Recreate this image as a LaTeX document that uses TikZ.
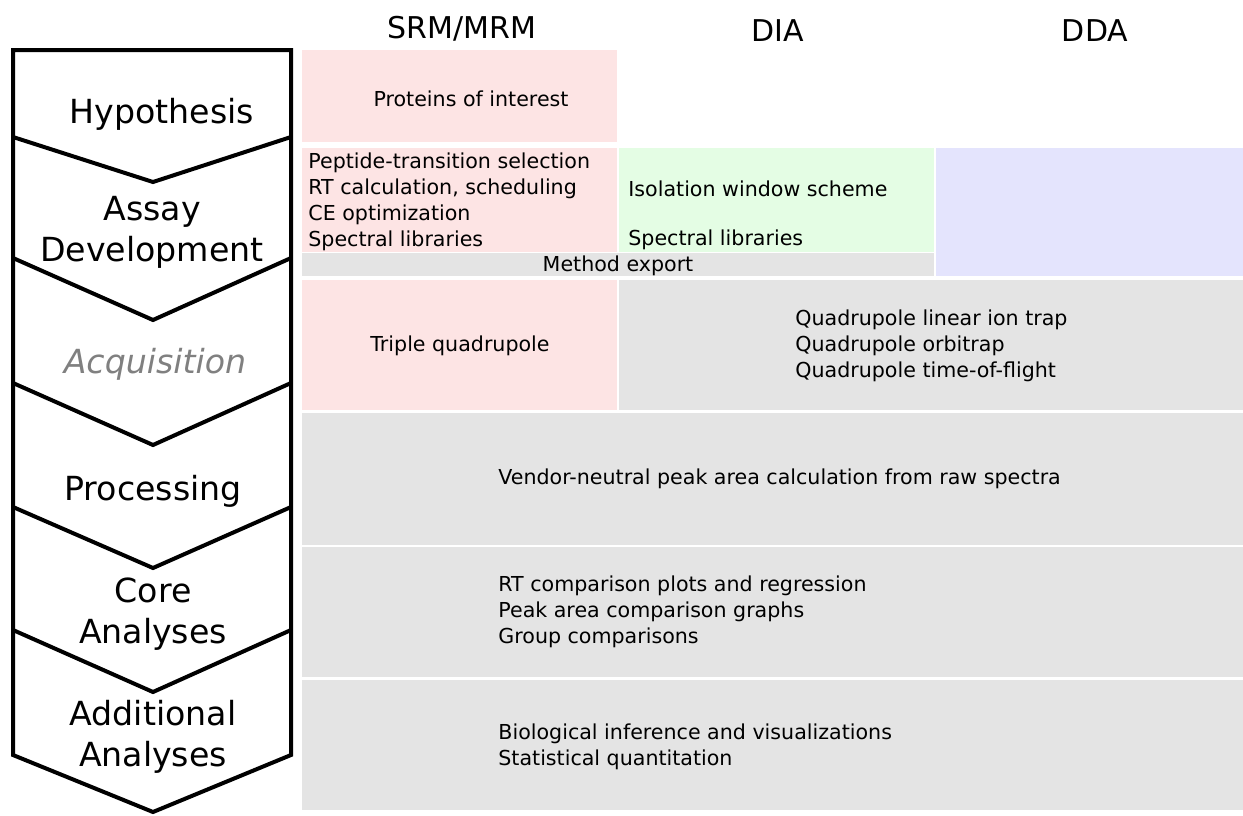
\documentclass[tikz,border=0pt]{standalone}
\usepackage{fontspec}
\setmainfont{DejaVu Sans}
\usepackage{tikz}
\usetikzlibrary{positioning}
\definecolor{srmpink}{RGB}{253,228,228}
\definecolor{diagreen}{RGB}{228,253,228}
\definecolor{ddablue}{RGB}{228,228,253}
\definecolor{cellgray}{RGB}{228,228,228}
\definecolor{stagegray}{RGB}{128,128,128}
\tikzset{
  stage/.style={align=center, font=\fontsize{16.6}{20.5}\selectfont, inner sep=0pt},
  colhead/.style={font=\fontsize{15}{18}\selectfont, inner sep=0pt},
  cell/.style={align=left, font=\fontsize{10.3}{13}\selectfont, inner sep=0pt, anchor=west},
  chevron/.style={draw=black, line width=2pt, line join=miter}
}

\begin{document}
\begin{tikzpicture}[x=0.5pt, y=-0.5pt]
  \useasboundingbox (0,0) rectangle (1243,815);

  % Column headers
  \node[colhead] (srm) at (462,29) {SRM/MRM};
  \node[colhead] (dia) at (778,31) {DIA};
  \node[colhead] (dda) at (1095,31) {DDA};

  % Cell backgrounds
  \fill[srmpink] (302,50) rectangle (617,142);
  \fill[srmpink] (302,148) rectangle (617,252);
  \fill[diagreen] (619,148) rectangle (934,252);
  \fill[cellgray] (302,253) rectangle (934,276);
  \fill[ddablue] (936,148) rectangle (1243,276);
  \fill[srmpink] (302,280) rectangle (617,410);
  \fill[cellgray] (619,280) rectangle (1243,410);
  \fill[cellgray] (302,413) rectangle (1243,545);
  \fill[cellgray] (302,547) rectangle (1243,677);
  \fill[cellgray] (302,680) rectangle (1243,810);

  % Workflow column (stacked chevrons)
  \draw[chevron] (13,50) -- (13,755) -- (153,812) -- (291,755) -- (291,50) -- cycle;
  \draw[chevron] (13,137) -- (153,182) -- (291,137);
  \draw[chevron] (13,258) -- (153,320) -- (291,258);
  \draw[chevron] (13,383) -- (153,445) -- (291,383);
  \draw[chevron] (13,507) -- (153,568) -- (291,507);
  \draw[chevron] (13,630) -- (153,692) -- (291,630);

  % Stage labels
  \node[stage] (hyp) at (162,114) {Hypothesis};
  \node[stage] (assay) at (152,232) {Assay\\Development};
  \node[stage, text=stagegray, font=\fontsize{16.6}{20.5}\selectfont\itshape] (acq) at (155,364) {Acquisition};
  \node[stage] (proc) at (153,491) {Processing};
  \node[stage] (core) at (153,614) {Core\\Analyses};
  \node[stage] (addl) at (153,737) {Additional\\Analyses};

  % Cell texts
  \node[cell, anchor=center] (poi) at (471,99) {Proteins of interest};
  \node[cell] (srmassay) at (308,202) {Peptide-transition selection\\RT calculation, scheduling\\CE optimization\\Spectral libraries};
  \node[cell] (isowin) at (628,189) {Isolation window scheme};
  \node[cell] (dialib) at (628,240) {Spectral libraries};
  \node[cell, anchor=center] (export) at (618,266) {Method export};
  \node[cell, anchor=center] (qqq) at (460,346) {Triple quadrupole};
  \node[cell] (hybrid) at (795,346) {Quadrupole linear ion trap\\Quadrupole orbitrap\\Quadrupole time-of-flight};
  \node[cell] (peak) at (498,479) {Vendor-neutral peak area calculation from raw spectra};
  \node[cell] (coretxt) at (498,612) {RT comparison plots and regression\\Peak area comparison graphs\\Group comparisons};
  \node[cell] (addltxt) at (498,747) {Biological inference and visualizations\\Statistical quantitation};
\end{tikzpicture}
\end{document}
